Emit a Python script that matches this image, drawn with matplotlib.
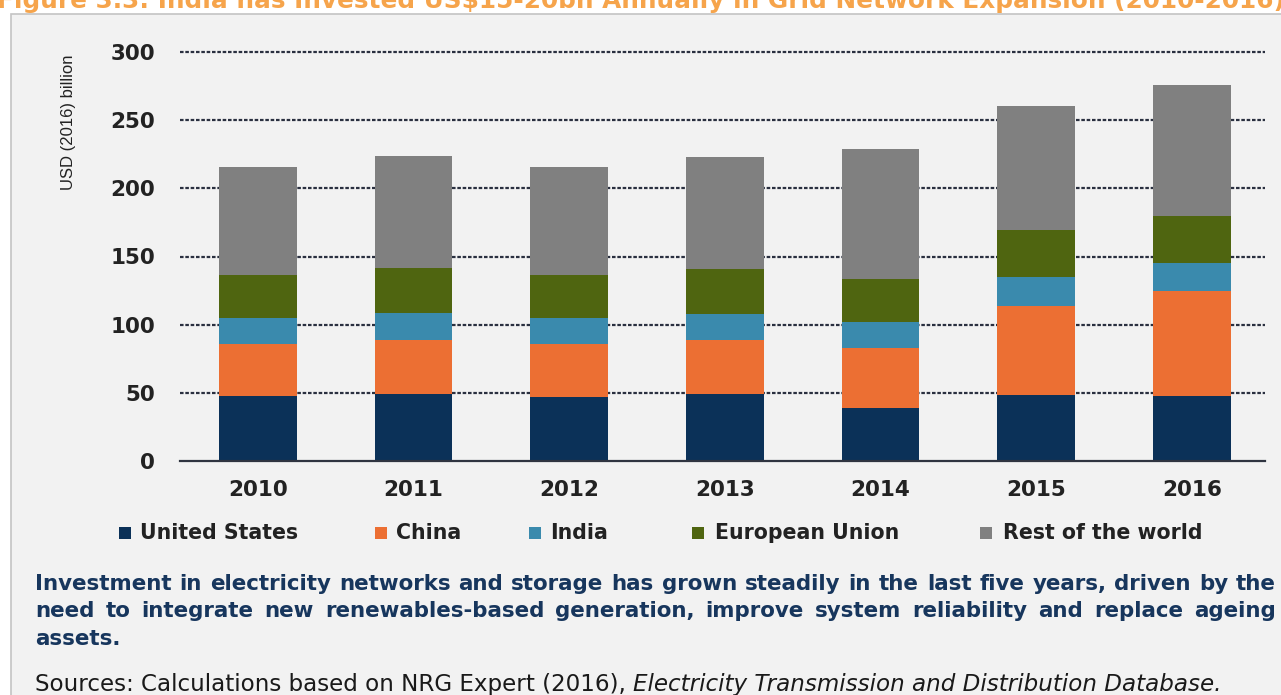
import matplotlib
matplotlib.use("Agg")
import matplotlib.pyplot as plt
from matplotlib.patches import Rectangle
import numpy as np

years = ['2010', '2011', '2012', '2013', '2014', '2015', '2016']
series_names = ['United States', 'China', 'India', 'European Union', 'Rest of the world']
us = [47.6, 49.5, 47.0, 49.3, 39.2, 48.5, 47.6]
china = [38.0, 39.3, 38.6, 39.2, 43.4, 65.5, 77.4]
india = [19.1, 19.6, 19.1, 19.4, 19.6, 21.3, 20.4]
eu = [31.6, 33.1, 31.6, 32.8, 31.2, 34.3, 34.5]
rest = [79.7, 82.2, 79.7, 82.6, 95.6, 90.9, 95.8]
yticks = [0, 50, 100, 150, 200, 250, 300]

colors = ['#0b3158', '#ec6f33', '#3a8aad', '#4f6510', '#808080']

title = "Figure 3.3: India has Invested US$15-20bn Annually in Grid Network Expansion (2010-2016)"
caption_lines = [
    "Investment in electricity networks and storage has grown steadily in the last five years, driven by the",
    "need to integrate new renewables-based generation, improve system reliability and replace ageing",
    "assets.",
]
source_a = "Sources: Calculations based on NRG Expert (2016), "
source_b = "Electricity Transmission and Distribution Database."

W, H = 1281, 695
fig = plt.figure(figsize=(W / 100, H / 100), dpi=100)
fig.patch.set_facecolor('white')
renderer = fig.canvas.get_renderer()

def fx(px):
    return px / W

def fy(py):
    return 1 - py / H

# gray panel
fig.patches.append(Rectangle((fx(11), fy(760)), fx(1400), (760 - 14) / H,
                             transform=fig.transFigure, facecolor='#f2f2f2',
                             edgecolor='#c4c4c4', linewidth=1.2, zorder=-5))

def fit_size(s, target_w, size0, **kw):
    t = fig.text(0, 0, s, fontsize=size0, **kw)
    w = t.get_window_extent(renderer).width
    t.remove()
    return size0 * target_w / w

# title (cut off at top, as in the source screenshot)
tkw = dict(color='#f6a44b', fontweight='bold', family='DejaVu Sans')
fig.text(fx(-3), fy(8), title, fontsize=fit_size(title, 1290, 18, **tkw),
         va='baseline', ha='left', **tkw)

# axes
ax = fig.add_axes([fx(180), fy(461), fx(1265) - fx(180), (461 - 52) / H])
ax.set_facecolor('none')
x = np.arange(len(years))
data = [us, china, india, eu, rest]
bottom = np.zeros(len(years))
for vals, c, name in zip(data, colors, series_names):
    ax.bar(x, vals, 0.5, bottom=bottom, color=c, label=name, zorder=3, linewidth=0)
    bottom += np.array(vals)

ax.set_xlim(-0.5, 6.47)
ax.set_ylim(0, 300)
ax.set_yticks(yticks)
ax.yaxis.grid(True, linestyle=(0, (1.6, 0.8)), color='#2a3040', linewidth=1.6, zorder=1)
ax.set_axisbelow(True)
ax.set_xticks(x)
ax.set_xticklabels(years)
for s in ['top', 'right', 'left']:
    ax.spines[s].set_visible(False)
ax.spines['bottom'].set_color('#2f3440')
ax.spines['bottom'].set_linewidth(1.6)
ax.spines['bottom'].set_zorder(4)
ax.tick_params(axis='both', length=0, labelsize=15.5, labelcolor='#222222')
ax.tick_params(axis='y', pad=18)
ax.tick_params(axis='x', pad=14)
for lab in ax.get_xticklabels() + ax.get_yticklabels():
    lab.set_fontweight('bold')
for gl in ax.yaxis.get_gridlines():
    gl.set_clip_on(False)
ax.yaxis.get_gridlines()[0].set_visible(False)

# y label
fig.text(fx(68), fy(122), "USD (2016) billion", rotation=90, ha='center', va='center',
         fontsize=12, family='Liberation Sans', color='#222222')

# legend (manual)
sq_x = [125, 381, 535, 698, 986]
tx_x = [140, 396, 550, 715, 1003]
ly = 533
for sx, tx, c, name in zip(sq_x, tx_x, colors, series_names):
    fig.patches.append(Rectangle((fx(sx - 6), fy(ly + 6)), fx(12), 12 / H,
                                 transform=fig.transFigure, facecolor=c, edgecolor='none'))
    fig.text(fx(tx), fy(ly), name, fontsize=14.8, fontweight='bold', color='#222222',
             ha='left', va='center')

# caption, justified
cap_base = dict(fontweight='bold', color='#17365d', va='baseline')
x0, x1 = 35, 1276
cap_size = fit_size(caption_lines[0], x1 - x0, 14, **cap_base)
cap_kw = dict(fontsize=cap_size, **cap_base)
cap_y = [590, 617, 645]
sp_a = fig.text(0, 0, 'a a', **cap_kw)
sp_b = fig.text(0, 0, 'aa', **cap_kw)
sw = sp_a.get_window_extent(renderer).width - sp_b.get_window_extent(renderer).width
sp_a.remove(); sp_b.remove()
for i, line in enumerate(caption_lines):
    words = line.split(' ')
    texts = [fig.text(0, fy(cap_y[i]), w_, **cap_kw) for w_ in words]
    widths = [t.get_window_extent(renderer).width for t in texts]
    if i < len(caption_lines) - 1 and len(words) > 1:
        gap = (x1 - x0 - sum(widths)) / (len(words) - 1)
    else:
        gap = sw
    xx = x0
    for t, w_ in zip(texts, widths):
        t.set_x(fx(xx))
        xx += w_ + gap

# source line
src_size = fit_size(source_a + source_b, 1187, 14, color='#1a1a1a')
t1 = fig.text(fx(35), fy(691), source_a, fontsize=src_size, color='#1a1a1a', va='baseline')
w1 = t1.get_window_extent(renderer).width
fig.text(fx(35 + w1), fy(691), source_b, fontsize=src_size, color='#1a1a1a',
         va='baseline', style='italic')

fig.savefig('out.png', dpi=100)
